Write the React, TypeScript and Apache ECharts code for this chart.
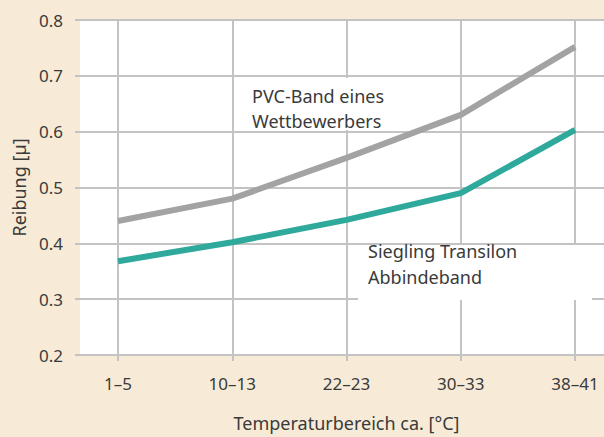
import React, { useEffect, useRef } from "react";
import * as echarts from "echarts";

const categories = ["1–5", "10–13", "22–23", "30–33", "38–41"];
const pvcValues = [0.44, 0.48, 0.553, 0.63, 0.752];
const transilonValues = [0.368, 0.402, 0.442, 0.49, 0.603];
const yTicks = { min: 0.2, max: 0.8, interval: 0.1 };

const FONT = "'Noto Sans', 'Open Sans', sans-serif";
const TEXT = "#3a3a3a";
const GRID = "#c3c3c3";

export default function App() {
  const ref = useRef<HTMLDivElement>(null);
  useEffect(() => {
    if (!ref.current) return;
    const chart = echarts.init(ref.current, undefined, { renderer: "svg" });
    chart.setOption({
      animation: false,
      backgroundColor: "#f7ebd7",
      textStyle: { fontFamily: FONT },
      grid: [
        { left: 118, right: 29, top: 20, bottom: 82 },
        { left: 80, right: 0, top: 20, bottom: 82, show: true, backgroundColor: "#ffffff", borderWidth: 0, z: -1 },
      ],
      xAxis: [
        {
          type: "category",
          gridIndex: 0,
          data: categories,
          boundaryGap: false,
          axisLine: { show: false },
          axisTick: { show: true, length: 6, lineStyle: { color: GRID, width: 2 } },
          splitLine: { show: true, lineStyle: { color: GRID, width: 2 } },
          axisLabel: { color: TEXT, fontSize: 17, margin: 20, fontFamily: FONT },
          name: "Temperaturbereich ca. [°C]",
          nameLocation: "middle",
          nameGap: 59,
          nameTextStyle: { color: TEXT, fontSize: 18, fontFamily: FONT },
        },
        { type: "value", gridIndex: 1, show: false, min: 0, max: 1 },
      ],
      yAxis: [
        { type: "value", gridIndex: 0, min: yTicks.min, max: yTicks.max, interval: yTicks.interval, show: false },
        {
          type: "value",
          gridIndex: 1,
          min: yTicks.min,
          max: yTicks.max,
          interval: yTicks.interval,
          axisLine: { show: false },
          axisTick: { show: true, length: 5, lineStyle: { color: GRID, width: 2 } },
          splitLine: { show: true, lineStyle: { color: GRID, width: 2 } },
          axisLabel: { color: TEXT, fontSize: 17, margin: 17, fontFamily: FONT, formatter: (v: number) => v.toFixed(1) },
          name: "Reibung [µ]",
          nameLocation: "middle",
          nameRotate: 90,
          nameGap: 52,
          nameTextStyle: { color: TEXT, fontSize: 18, fontFamily: FONT },
        },
      ],
      series: [
        {
          type: "line",
          xAxisIndex: 0,
          yAxisIndex: 0,
          data: pvcValues,
          symbol: "none",
          lineStyle: { color: "#a3a3a3", width: 6 },
          z: 5,
        },
        {
          type: "line",
          xAxisIndex: 0,
          yAxisIndex: 0,
          data: transilonValues,
          symbol: "none",
          lineStyle: { color: "#2ea99b", width: 6 },
          z: 5,
        },
      ],
      graphic: [
        { type: "rect", shape: { x: 242, y: 78, width: 158, height: 52 }, style: { fill: "#ffffff" }, z: 3 },
        {
          type: "text",
          x: 252,
          y: 83,
          z: 4,
          style: { text: "PVC-Band eines\nWettbewerbers", fill: TEXT, fontSize: 18, fontFamily: FONT, lineHeight: 25 },
        },
        { type: "rect", shape: { x: 358, y: 245, width: 234, height: 55 }, style: { fill: "#ffffff" }, z: 3 },
        {
          type: "text",
          x: 368,
          y: 238,
          z: 4,
          style: { text: "Siegling Transilon\nAbbindeband", fill: TEXT, fontSize: 18, fontFamily: FONT, lineHeight: 26 },
        },
      ],
    });
    return () => chart.dispose();
  }, []);
  return <div ref={ref} style={{ width: 604, height: 437, position: "absolute", left: 0, top: 0 }} />;
}
